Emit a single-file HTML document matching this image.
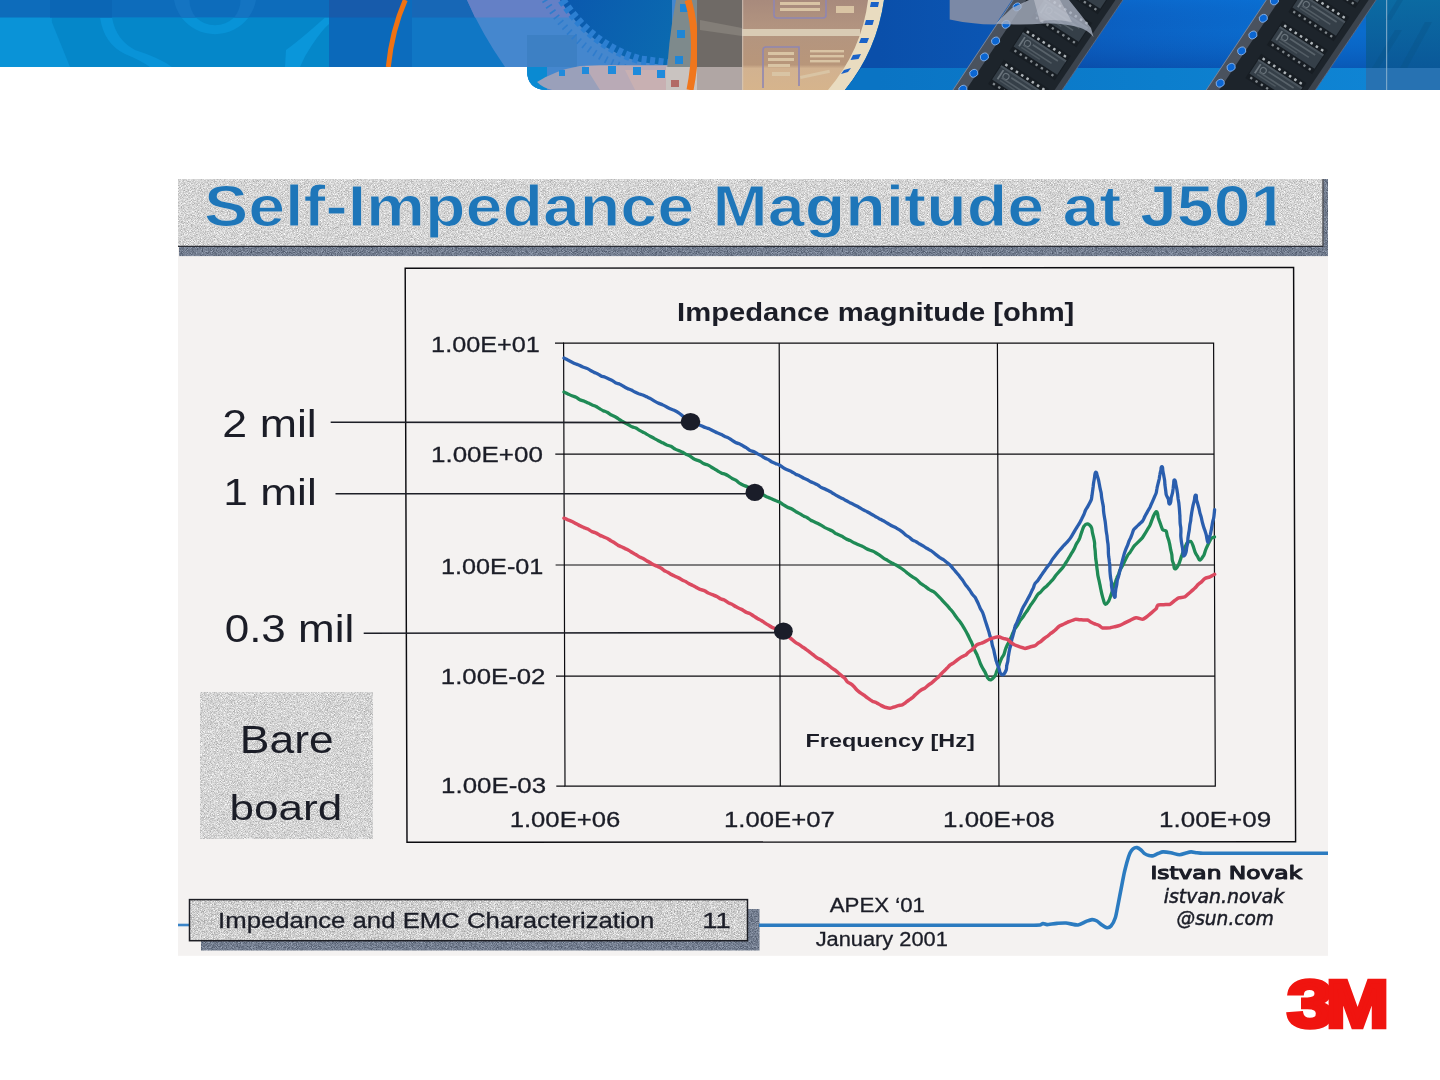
<!DOCTYPE html>
<html lang="en">
<head>
<meta charset="utf-8">
<title>Self-Impedance Magnitude at J501</title>
<style>
html,body{margin:0;padding:0;background:#fff;}
body{width:1440px;height:1080px;overflow:hidden;position:relative;font-family:"Liberation Sans",sans-serif;}
svg{position:absolute;left:0;top:0;display:block;}
text{white-space:pre;}
</style>
</head>
<body>
<svg width="1440" height="1080" viewBox="0 0 1440 1080">
<defs>
<clipPath id="bclip"><path d="M0,0 H1440 V90 H547 Q527,90 527,70 V67 H0 Z"/></clipPath>
<linearGradient id="bgR" x1="880" x2="1440" y1="0" y2="0" gradientUnits="userSpaceOnUse">
 <stop offset="0" stop-color="#0a4faa"/><stop offset="0.18" stop-color="#0b55b2"/><stop offset="0.45" stop-color="#0b62c4"/><stop offset="0.7" stop-color="#0a6cce"/><stop offset="1" stop-color="#0a6ccc"/>
</linearGradient>
<linearGradient id="bgR2" x1="880" x2="1440" y1="0" y2="0" gradientUnits="userSpaceOnUse">
 <stop offset="0" stop-color="#0a74c4"/><stop offset="0.5" stop-color="#0c7ecd"/><stop offset="1" stop-color="#1086d6"/>
</linearGradient>
<linearGradient id="vdark" x1="0" x2="0" y1="0" y2="68" gradientUnits="userSpaceOnUse">
 <stop offset="0" stop-color="#0a78e0" stop-opacity="0.28"/><stop offset="0.45" stop-color="#0a50b0" stop-opacity="0"/><stop offset="1" stop-color="#062a80" stop-opacity="0.3"/>
</linearGradient>
<linearGradient id="teal" x1="0" x2="0" y1="0" y2="68" gradientUnits="userSpaceOnUse">
 <stop offset="0" stop-color="#0b6a9e"/><stop offset="1" stop-color="#0a5896"/>
</linearGradient>
<linearGradient id="tan" x1="0" x2="0" y1="0" y2="90" gradientUnits="userSpaceOnUse">
 <stop offset="0" stop-color="#a88a7c"/><stop offset="0.33" stop-color="#b39580"/><stop offset="0.72" stop-color="#b8967a"/><stop offset="0.76" stop-color="#d2b290"/><stop offset="1" stop-color="#d6b48c"/>
</linearGradient>
<linearGradient id="deep" x1="560" x2="680" y1="0" y2="60" gradientUnits="userSpaceOnUse">
 <stop offset="0" stop-color="#0a58ae"/><stop offset="1" stop-color="#0b6cb0"/>
</linearGradient>
<g id="chip">
 <rect x="-27" y="-14.5" width="54" height="29" fill="#171d23"/>
 <rect x="-26" y="-8.6" width="52" height="17.2" fill="#353f48"/>
 <rect x="-26" y="-8.6" width="52" height="2" fill="#4a545d"/>
 <rect x="-22.5" y="-5.5" width="1.8" height="11" fill="#6b757d"/>
 <circle cx="-16" cy="-1.5" r="3" fill="none" stroke="#69737b" stroke-width="1.1"/>
 <rect x="-11" y="-4.2" width="30" height="1.7" fill="#59636b"/>
 <rect x="-19" y="1.2" width="34" height="1.7" fill="#535d65"/>
 <rect x="-19" y="4.4" width="22" height="1.5" fill="#4c565e"/>
 <g fill="#aeb4b8"><rect x="-23.2" y="-12.6" width="2.6" height="2.6" rx="0.6"/><rect x="-16.9" y="-12.6" width="2.6" height="2.6" rx="0.6"/><rect x="-10.6" y="-12.6" width="2.6" height="2.6" rx="0.6"/><rect x="-4.3" y="-12.6" width="2.6" height="2.6" rx="0.6"/><rect x="2.0" y="-12.6" width="2.6" height="2.6" rx="0.6"/><rect x="8.3" y="-12.6" width="2.6" height="2.6" rx="0.6"/><rect x="14.6" y="-12.6" width="2.6" height="2.6" rx="0.6"/><rect x="20.9" y="-12.6" width="2.6" height="2.6" rx="0.6"/></g>
 <g fill="#80878c"><rect x="-23.2" y="10.2" width="2.4" height="2.4" rx="0.6"/><rect x="-16.9" y="10.2" width="2.4" height="2.4" rx="0.6"/><rect x="-10.6" y="10.2" width="2.4" height="2.4" rx="0.6"/><rect x="-4.3" y="10.2" width="2.4" height="2.4" rx="0.6"/><rect x="2.0" y="10.2" width="2.4" height="2.4" rx="0.6"/><rect x="8.3" y="10.2" width="2.4" height="2.4" rx="0.6"/><rect x="14.6" y="10.2" width="2.4" height="2.4" rx="0.6"/><rect x="20.9" y="10.2" width="2.4" height="2.4" rx="0.6"/></g>
</g>
<g id="tape">
 <path d="M946.3,100 L1021.1,-12 H1131.0 L1055.4,100 Z" fill="#1d242b"/>
 <path d="M946.3,100 L1021.1,-12 h13 L959.3,100 Z" fill="#4a525e"/>
 <path d="M1047.9,100 L1123.5,-12 h7.5 L1055.4,100 Z" fill="#3b434d"/>
 <path d="M946.3,100 L1021.1,-12" stroke="#7f90ab" stroke-width="0.9" fill="none"/>
 <path d="M1055.4,100 L1131.0,-12" stroke="#5f7396" stroke-width="0.8" fill="none"/>
 <use href="#chip" transform="translate(1040.1,53.5) rotate(33)"/><use href="#chip" transform="translate(1018.6,86.5) rotate(33)"/><use href="#chip" transform="translate(1061.6,20.5) rotate(33)"/><use href="#chip" transform="translate(1083.1,-12.5) rotate(33)"/>
 <g fill="#0b66d2" stroke="#8fb6ea" stroke-width="0.8"><ellipse cx="1017.1" cy="6.9" rx="4.2" ry="3.7" transform="rotate(-25 1017.1 6.9)"/><ellipse cx="1006" cy="24.3" rx="4.2" ry="3.7" transform="rotate(-25 1006 24.3)"/><ellipse cx="995.6" cy="41" rx="4.2" ry="3.7" transform="rotate(-25 995.6 41)"/><ellipse cx="984.4" cy="56.9" rx="4.2" ry="3.7" transform="rotate(-25 984.4 56.9)"/><ellipse cx="973.8" cy="73.3" rx="4.2" ry="3.7" transform="rotate(-25 973.8 73.3)"/><ellipse cx="962.9" cy="89.2" rx="4.2" ry="3.7" transform="rotate(-25 962.9 89.2)"/><ellipse cx="1028" cy="-9.5" rx="4.2" ry="3.7" transform="rotate(-25 1028 -9.5)"/></g>
</g>
</defs>
<g clip-path="url(#bclip)">
<!-- A: left light-blue field -->
<rect x="0" y="0" width="1440" height="90" fill="#0790d4"/>
<rect x="52" y="17.5" width="280" height="50" fill="#0587c9"/>
<path d="M0,17.5 H50 L70,67 H0Z" fill="#0a93d7"/>
<path d="M112,17.5 Q116,40 135,50 Q160,58 172,67 H150 Q140,60 125,54 Q104,44 100,17.5Z" fill="#0993d8"/>
<path d="M181.5,17.5 A42,42 0 0 0 248.5,17.5 H234 A27,27 0 0 1 196,17.5Z" fill="#0893d7"/>
<path d="M325,17.5 Q300,40 286,50 L285,67 H300 Q305,55 312,45 Q322,30 329,24 V17.5Z" fill="#0a96da"/>
<rect x="0" y="0" width="329" height="17.5" fill="#0d6cbb"/>
<path d="M50,0 H112 V17.5 H50Z" fill="#0b66b5"/>
<path d="M181.5,17.5 A42,42 0 0 1 174,0 H189.5 A27,27 0 0 0 196,17.5Z M248.5,17.5 A42,42 0 0 0 256,0 H240.5 A27,27 0 0 1 234,17.5Z" fill="#1474c2"/>
<!-- B -->
<rect x="329" y="0" width="85" height="67" fill="#0b69ba"/>
<rect x="329" y="0" width="85" height="17.5" fill="#175bab"/>
<rect x="412" y="0" width="118" height="67" fill="#1077c5"/>
<rect x="412" y="0" width="118" height="17.5" fill="#1767b6"/>
<path d="M405,0 Q392,30 388,67 H412 V0Z" fill="#0c6cbd"/>
<path d="M467,0 H700 V90 H527 V67 H505 Q482,34 467,0Z" fill="#4587ce"/>
<path d="M467,0 H600 V17.5 H475Z" fill="#6480c6"/>
<rect x="527" y="35" width="50" height="32" fill="#3d80c4"/>
<!-- C: gear + deep blue disc -->
<path d="M560,0 Q590,48 640,62 L672,66 V0Z" fill="url(#deep)"/>
<path d="M562,0 Q592,46 640,60 L672,64" fill="none" stroke="#2c7fd2" stroke-width="9" stroke-dasharray="5 3.5"/>
<path d="M545,0 Q580,58 640,72" fill="none" stroke="#2f7ccc" stroke-width="7" stroke-dasharray="1.6 5"/>
<rect x="527" y="67" width="20" height="23" fill="#0a8ad2"/>
<path d="M537,82 Q556,70 580,66 L600,65 H672 V90 H552 Q543,88 537,82Z" fill="#9aa0ba"/>
<path d="M585,66 H672 V90 H600Z" fill="#b9aab6"/><path d="M625,70 H672 V90 H635Z" fill="#c8b0b2"/>
<g fill="#1f8bdc"><rect x="559" y="70" width="6" height="6"/><rect x="582" y="67" width="7" height="7"/><rect x="608" y="66" width="8" height="8"/><rect x="633" y="67" width="8" height="8"/><rect x="657" y="70" width="8" height="8"/></g>
<!-- film strip + orange cable -->
<path d="M676,0 H700 V90 H666 Q668,40 676,0Z" fill="#7e8a8c"/>
<path d="M666,67 H700 V90 H666Z" fill="#c9c3c0"/>
<g fill="#1f86d6"><rect x="680" y="4" width="8" height="8"/><rect x="677" y="30" width="8" height="8"/><rect x="675" y="56" width="8" height="8"/></g>
<rect x="671" y="80" width="8" height="7" fill="#b26a66"/>
<path d="M688,0 Q700,40 690,90" fill="none" stroke="#f0761c" stroke-width="7"/>
<!-- D: flex circuit -->
<rect x="697" y="0" width="46" height="67" fill="#6f6a66"/>
<rect x="697" y="67" width="46" height="23" fill="#b0a6a4"/>
<path d="M700,20 L742,28 V36 L700,30Z" fill="#837e78"/>
<path d="M742,0 H876 Q868,50 836,90 H742Z" fill="url(#tan)"/>
<rect x="742" y="29" width="118" height="7" fill="#d9cbb4"/>
<rect x="742.2" y="0" width="1" height="90" fill="#d8d0c8" opacity="0.7"/>
<g fill="none" stroke="#8f86b2" stroke-width="1.6">
 <rect x="774" y="-4" width="52" height="22" rx="3"/>
 <path d="M763,88 V50 Q763,47 766,47 H799 V86"/>
</g>
<g fill="#d9c4a4">
 <rect x="780" y="2" width="40" height="3"/><rect x="780" y="8" width="40" height="3"/><rect x="836" y="6" width="18" height="7"/>
 <rect x="768" y="52" width="26" height="3"/><rect x="768" y="58" width="26" height="3"/><rect x="768" y="64" width="22" height="3"/><rect x="772" y="72" width="18" height="4"/>
 <rect x="810" y="50" width="34" height="2.4"/><rect x="810" y="55" width="34" height="2.4"/><rect x="810" y="60" width="30" height="2.4"/>
 <rect x="800" y="76" width="30" height="3" transform="rotate(-12 800 76)"/>
</g>
<path d="M868,0 Q862,50 828,90 H845 Q877,50 884,0Z" fill="#e9dcc0"/>
<g fill="#1a62c8"><path d="M871,2 l8,0 l-1,5 l-8,0Z"/><path d="M866,20 l8,0 l-1.5,5 l-8,0Z"/><path d="M861,38 l8,0 l-2,5 l-8,0Z"/><path d="M853,55 l8,-1 l-2.5,5 l-8,1Z"/><path d="M844,70 l7,-2 l-3,4 l-7,2Z"/></g>
<!-- E: blue field with IC tapes -->
<path d="M884,0 Q877,50 845,90 H1440 V0Z" fill="url(#bgR)"/>
<path d="M1080,0 H1440 V68 H1040Z" fill="url(#vdark)"/>
<path d="M861,68 Q853,80 845,90 H1440 V68Z" fill="url(#bgR2)"/>
<path d="M949.7,0 H1012 L995.5,24.6 Q970,24 949.7,19.4Z" fill="#7b89a6"/>
<use href="#tape"/>
<path d="M995.5,23.8 L1012,8 L1029,0 H1069 L1079,12.5 L1091,28 L1093.5,37 Q1088,30 1078,27 Q1060,22.5 1045.5,23.6 Q1025,25 1009.4,24.3Z" fill="#aab2c3" opacity="0.78"/>
<path d="M1034,0 H1060 L1072,22 Q1050,18 1040,22Z" fill="#d4d8e0" opacity="0.45"/>
<path d="M1366,0 H1440 V68 H1366Z" fill="url(#teal)" opacity="0.92"/>
<path d="M1366,68 H1440 V90 H1366Z" fill="#2a70ae" opacity="0.9"/>
<path d="M1372,68 L1395,30 L1402,30 L1379,68Z M1400,68 L1425,22 L1432,22 L1407,68Z M1385,20 L1397,0 H1403 L1391,20Z" fill="#085488" opacity="0.35"/>
<use href="#tape" transform="translate(257.3,-6)"/>
<rect x="1386" y="0" width="1.2" height="90" fill="#8fb4d0" opacity="0.8"/>
<path d="M388.3,67 Q392,30 405.3,0" fill="none" stroke="#f07212" stroke-width="5"/>
</g>

<defs>
<filter id="grain" x="0" y="0" width="100%" height="100%" color-interpolation-filters="sRGB">
  <feTurbulence type="fractalNoise" baseFrequency="1.3" numOctaves="1" seed="7" result="n"/>
  <feColorMatrix in="n" type="matrix" values="0.62 0 0 0 0.52  0.62 0 0 0 0.52  0.62 0 0 0 0.52  0 0 0 0 1"/>
  <feComposite in2="SourceGraphic" operator="in"/>
</filter>
<filter id="grainD" x="0" y="0" width="100%" height="100%" color-interpolation-filters="sRGB">
  <feTurbulence type="fractalNoise" baseFrequency="1.2" numOctaves="1" seed="11" result="n"/>
  <feColorMatrix in="n" type="matrix" values="0.6 0 0 0 0.15  0.6 0 0 0 0.19  0.6 0 0 0 0.26  0 0 0 0 1"/>
  <feComposite in2="SourceGraphic" operator="in"/>
</filter>
<filter id="grainF" x="0" y="0" width="100%" height="100%" color-interpolation-filters="sRGB">
  <feTurbulence type="fractalNoise" baseFrequency="1.3" numOctaves="1" seed="23" result="n"/>
  <feColorMatrix in="n" type="matrix" values="0.66 0 0 0 0.48  0.66 0 0 0 0.48  0.66 0 0 0 0.48  0 0 0 0 1"/>
  <feComposite in2="SourceGraphic" operator="in"/>
</filter>
</defs>
<!-- scanned slide paper -->
<rect x="178" y="179" width="1150" height="776.8" fill="#f4f2f1"/>
<!-- title bar shadow + bar -->
<rect x="179" y="179" width="1149" height="77.1" fill="#6d7689" filter="url(#grainD)"/>
<rect x="178" y="179" width="1145.4" height="67.5" fill="#d3d3d3" filter="url(#grain)"/>
<path d="M1323,179 V246.4 H178" fill="none" stroke="#2a2c34" stroke-width="1.1"/>
<!-- Bare board box -->
<rect x="200" y="692" width="173" height="147" fill="#d6d6d5" filter="url(#grain)"/>
<!-- footer label box -->
<rect x="201" y="909" width="558.5" height="41.5" fill="#6d7689" filter="url(#grainD)"/>
<path d="M178,925 H190" stroke="#3a84c8" stroke-width="2.6" fill="none"/>
<rect x="189.5" y="899.5" width="558" height="41.2" fill="#cfcfcf" filter="url(#grainF)"/>
<rect x="189.5" y="899.6" width="558" height="41.1" fill="none" stroke="#1d1e24" stroke-width="1.5"/>
<!-- chart frame -->
<g fill="none" stroke="#0b0b0f" stroke-width="1.45">
<path d="M405.2,268.2 L1293.6,267.5 L1295.6,841.8 L407,842.3 Z"/>
</g>
<g fill="none" stroke="#0b0b0f" stroke-width="1.2">
<path d="M563.6,343.2 L1213.6,343.2 L1215.3,786.2 L565.0,786.2 Z"/>
<path d="M555,343.2 H564 M555.3,454.2 H1214 M555.6,565 H1214.5 M556,676.2 H1214.9 M556.3,786.2 H565"/>
<path d="M779.2,343.2 L780.3,786.2 M997.4,343.2 L999,786.2"/>
</g>

<g fill="none" stroke-linejoin="round" stroke-linecap="round">
<path d="M564.0,392.0 C565.1,392.5 566.8,393.4 567.9,393.9 C569.0,394.4 570.8,395.4 571.9,395.8 C573.1,396.3 575.0,396.6 576.1,397.2 C577.1,397.7 578.7,399.2 579.8,399.7 C580.9,400.3 582.8,400.6 583.9,401.0 C585.0,401.5 587.1,402.6 588.2,403.1 C589.3,403.6 591.1,404.5 592.2,405.0 C593.2,405.4 595.0,406.0 596.1,406.5 C597.1,407.1 599.1,408.5 600.1,409.0 C601.0,409.6 602.6,410.4 603.6,410.9 C604.6,411.3 606.3,411.7 607.2,412.3 C608.2,412.8 609.9,414.2 610.8,414.7 C611.7,415.2 613.3,415.7 614.2,416.2 C615.1,416.6 617.0,417.9 618.0,418.5 C619.0,419.2 620.5,420.3 621.5,420.9 C622.5,421.5 624.1,422.4 625.1,422.9 C626.1,423.4 627.6,424.2 628.5,424.7 C629.5,425.3 631.1,426.4 632.1,426.8 C633.1,427.3 634.9,427.6 635.9,428.0 C636.9,428.5 638.2,429.5 639.1,430.1 C640.0,430.6 642.1,431.7 643.1,432.2 C644.0,432.7 645.5,433.5 646.5,434.1 C647.4,434.6 649.0,435.5 650.0,436.1 C651.0,436.7 653.0,437.7 654.1,438.4 C655.2,439.0 657.2,440.1 658.4,440.7 C659.5,441.3 661.4,442.2 662.6,442.8 C663.8,443.4 665.7,444.5 666.8,445.0 C667.9,445.4 669.8,445.8 670.9,446.3 C672.0,446.8 674.2,448.6 675.2,449.1 C676.1,449.6 677.8,450.2 678.8,450.6 C679.7,451.0 681.3,451.6 682.2,452.1 C683.2,452.6 685.0,453.8 685.9,454.3 C686.8,454.7 688.3,455.1 689.2,455.6 C690.1,456.1 692.2,457.8 693.0,458.3 C693.9,458.8 695.3,459.6 696.2,459.9 C697.2,460.3 699.0,460.7 700.0,461.2 C700.9,461.7 702.5,463.1 703.5,463.6 C704.5,464.1 706.3,464.4 707.3,464.8 C708.3,465.2 709.8,466.1 710.8,466.7 C711.7,467.2 713.4,468.2 714.4,468.8 C715.4,469.4 717.1,470.7 718.0,471.2 C719.0,471.8 720.5,472.7 721.4,473.1 C722.4,473.5 724.0,473.7 724.9,474.1 C725.9,474.5 727.7,475.5 728.7,476.1 C729.8,476.8 731.2,477.9 732.2,478.5 C733.3,479.1 735.1,479.7 736.1,480.4 C737.1,481.0 738.5,482.4 739.5,483.1 C740.6,483.8 742.3,484.7 743.4,485.2 C744.4,485.7 746.3,486.2 747.3,486.8 C748.3,487.3 749.8,488.4 750.8,489.0 C751.8,489.5 753.5,490.5 754.6,491.1 C755.6,491.6 757.5,492.5 758.7,493.0 C759.9,493.5 761.9,494.3 763.0,494.8 C764.2,495.4 765.9,496.4 767.0,496.9 C768.1,497.5 769.9,498.0 771.0,498.5 C772.2,499.0 774.5,500.1 775.5,500.6 C776.6,501.1 778.5,501.5 779.5,502.1 C780.6,502.6 782.5,504.2 783.6,504.9 C784.6,505.6 786.3,506.6 787.5,507.2 C788.6,507.8 790.7,508.4 791.9,509.0 C793.0,509.6 794.8,511.0 796.0,511.7 C797.1,512.3 799.1,513.3 800.1,513.9 C801.1,514.5 802.8,515.7 803.7,516.1 C804.5,516.6 806.1,517.0 806.9,517.5 C807.8,517.9 809.9,519.7 810.8,520.2 C811.7,520.7 813.2,521.2 814.2,521.7 C815.1,522.1 816.9,523.0 817.9,523.5 C818.9,524.0 820.4,524.8 821.4,525.4 C822.3,526.0 824.0,527.1 824.9,527.6 C825.9,528.1 827.5,528.9 828.5,529.3 C829.5,529.8 831.3,530.4 832.3,530.9 C833.3,531.5 834.8,533.0 835.7,533.5 C836.7,534.0 838.2,534.5 839.2,535.0 C840.2,535.4 842.0,536.4 843.0,536.9 C843.9,537.5 845.3,538.5 846.3,539.0 C847.3,539.5 849.0,540.1 850.1,540.6 C851.1,541.1 852.9,542.2 854.1,542.8 C855.2,543.3 857.3,544.3 858.5,544.8 C859.6,545.3 861.5,545.9 862.7,546.5 C863.8,547.0 865.4,548.2 866.6,548.8 C867.7,549.4 869.9,550.1 871.0,550.5 C872.1,551.0 873.8,551.6 874.9,552.2 C875.9,552.7 878.0,554.1 879.2,554.9 C880.4,555.7 882.4,557.5 883.5,558.1 C884.5,558.8 886.3,559.7 887.4,560.3 C888.4,560.9 890.7,562.3 891.8,563.0 C892.9,563.6 894.9,564.4 896.0,565.0 C897.1,565.6 898.8,566.6 899.8,567.3 C900.9,568.0 903.2,569.6 904.3,570.5 C905.4,571.3 907.1,572.9 908.3,573.8 C909.4,574.7 911.3,576.1 912.5,576.9 C913.7,577.7 915.7,578.8 916.9,579.7 C918.0,580.6 919.5,582.5 920.6,583.4 C921.8,584.3 924.0,585.6 925.2,586.4 C926.3,587.2 928.0,588.7 929.1,589.4 C930.3,590.1 932.4,591.0 933.5,591.7 C934.7,592.5 936.7,594.4 937.6,595.3 C938.5,596.2 939.9,597.6 940.7,598.5 C941.5,599.4 942.8,600.9 943.7,601.9 C944.5,602.8 945.9,604.2 946.8,605.1 C947.6,606.0 949.3,608.0 950.0,608.8 C950.8,609.6 952.0,610.9 952.6,611.8 C953.3,612.7 954.5,614.6 955.2,615.6 C955.9,616.5 957.0,618.1 957.7,619.0 C958.4,619.8 959.5,621.0 960.2,621.9 C960.8,622.7 961.7,624.3 962.3,625.2 C962.9,626.2 964.2,628.3 964.9,629.5 C965.6,630.7 966.9,633.0 967.6,634.4 C968.3,635.7 969.4,638.3 970.0,639.4 C970.5,640.4 971.5,642.0 971.9,643.1 C972.4,644.2 973.1,646.6 973.6,647.8 C974.1,649.0 975.1,651.0 975.6,652.0 C976.1,653.1 977.0,654.7 977.4,655.7 C977.9,656.8 978.8,659.2 979.2,660.3 C979.6,661.4 980.2,663.2 980.7,664.3 C981.2,665.4 982.1,667.2 982.7,668.3 C983.3,669.4 984.5,671.1 985.1,672.3 C985.7,673.5 986.9,677.0 987.6,677.8 C988.2,678.7 989.8,680.0 990.8,679.8 C991.8,679.5 994.1,677.1 994.9,676.0 C995.7,675.0 996.2,672.9 996.6,671.6 C997.1,670.4 998.0,668.1 998.5,666.9 C998.9,665.7 999.4,663.8 999.8,662.7 C1000.2,661.5 1001.2,659.2 1001.7,658.1 C1002.3,657.0 1003.5,655.5 1004.0,654.3 C1004.5,653.2 1005.0,650.8 1005.4,649.5 C1005.9,648.2 1006.9,645.9 1007.4,644.8 C1007.9,643.8 1008.8,642.2 1009.3,641.1 C1009.8,640.1 1010.8,638.0 1011.3,636.9 C1011.8,635.8 1012.5,633.9 1013.0,632.8 C1013.5,631.8 1014.2,630.1 1014.8,629.0 C1015.4,628.0 1016.9,626.1 1017.6,625.1 C1018.3,624.0 1019.1,622.1 1019.8,621.0 C1020.5,620.0 1021.7,618.6 1022.4,617.6 C1023.2,616.6 1024.4,614.6 1025.1,613.6 C1025.8,612.6 1027.0,611.1 1027.6,610.1 C1028.3,609.1 1029.3,607.1 1030.0,606.1 C1030.6,605.1 1031.8,603.6 1032.5,602.6 C1033.2,601.7 1034.3,600.0 1035.0,598.9 C1035.6,597.8 1036.7,595.7 1037.5,594.8 C1038.2,593.9 1039.8,592.9 1040.6,592.1 C1041.5,591.2 1042.7,589.5 1043.6,588.7 C1044.4,587.8 1046.0,586.8 1046.8,586.0 C1047.7,585.1 1049.3,583.3 1050.2,582.4 C1051.1,581.4 1052.5,580.0 1053.3,579.0 C1054.1,578.0 1055.3,576.0 1056.1,575.0 C1056.9,574.0 1058.3,572.5 1059.2,571.5 C1060.1,570.6 1061.8,568.9 1062.6,567.8 C1063.4,566.8 1064.4,565.0 1065.1,563.9 C1065.8,562.8 1067.0,561.1 1067.6,560.1 C1068.2,559.0 1069.2,557.4 1069.8,556.3 C1070.4,555.3 1071.6,553.3 1072.3,552.2 C1072.9,551.1 1074.0,549.3 1074.5,548.3 C1075.0,547.3 1075.6,545.6 1076.1,544.6 C1076.6,543.6 1077.8,541.8 1078.3,541.0 C1078.8,540.1 1079.4,538.7 1079.8,537.8 C1080.1,536.9 1081.1,533.7 1081.7,532.2 C1082.2,530.6 1083.1,527.5 1083.8,526.5 C1084.5,525.5 1086.0,523.7 1087.2,523.8 C1088.4,523.9 1090.6,525.8 1091.3,527.1 C1092.1,528.4 1092.1,531.2 1092.4,532.5 C1092.7,533.8 1093.2,535.8 1093.5,537.1 C1093.8,538.4 1094.5,541.9 1094.6,542.9 C1094.7,543.8 1094.6,545.4 1094.6,546.3 C1094.7,547.3 1095.1,549.8 1095.2,550.8 C1095.3,551.7 1095.3,553.3 1095.4,554.2 C1095.5,555.2 1095.6,557.5 1095.7,558.6 C1095.9,559.7 1096.2,561.3 1096.3,562.4 C1096.4,563.5 1096.6,565.6 1096.8,566.8 C1096.9,568.0 1097.2,569.9 1097.4,571.2 C1097.5,572.4 1097.7,574.4 1097.9,575.6 C1098.1,576.8 1098.6,578.7 1098.9,579.9 C1099.2,581.1 1099.6,583.4 1099.9,584.7 C1100.2,586.0 1100.7,588.9 1101.0,590.2 C1101.3,591.6 1101.7,593.7 1102.1,595.0 C1102.4,596.3 1103.1,598.7 1103.5,599.9 C1103.9,601.1 1104.0,603.8 1105.2,604.2 C1106.3,604.5 1107.9,602.4 1108.5,601.4 C1109.2,600.4 1110.3,597.1 1110.8,595.6 C1111.3,594.1 1112.1,591.4 1112.5,590.2 C1112.9,589.0 1113.5,586.8 1113.9,585.8 C1114.2,584.7 1115.0,583.1 1115.4,582.1 C1115.8,581.0 1116.5,578.7 1116.9,577.8 C1117.3,576.8 1118.2,575.4 1118.6,574.4 C1119.0,573.4 1119.4,571.3 1119.9,570.2 C1120.4,569.1 1121.8,567.0 1122.5,565.7 C1123.1,564.4 1124.4,561.9 1125.0,560.6 C1125.7,559.2 1126.8,556.8 1127.4,555.8 C1128.0,554.7 1129.3,553.3 1130.0,552.4 C1130.7,551.4 1131.7,549.6 1132.4,548.6 C1133.0,547.6 1134.1,546.1 1134.9,545.2 C1135.7,544.4 1137.6,542.7 1138.6,541.7 C1139.6,540.7 1141.7,538.6 1142.5,537.6 C1143.3,536.6 1144.3,534.7 1145.0,533.6 C1145.7,532.5 1147.0,530.3 1147.6,529.2 C1148.3,528.1 1149.4,526.4 1150.0,525.2 C1150.5,524.0 1151.5,521.2 1152.0,519.9 C1152.5,518.6 1153.2,516.5 1153.8,515.4 C1154.5,514.3 1155.5,511.2 1156.7,511.8 C1157.9,512.3 1157.8,515.9 1158.2,517.4 C1158.7,519.0 1159.5,521.4 1160.1,522.9 C1160.6,524.4 1162.1,529.0 1162.7,529.8 C1163.3,530.6 1165.5,530.2 1166.1,531.0 C1166.7,531.8 1166.9,534.6 1167.3,536.0 C1167.7,537.3 1168.5,539.5 1168.9,540.8 C1169.2,542.0 1169.6,544.0 1169.9,545.3 C1170.1,546.6 1170.5,548.6 1170.7,549.9 C1171.0,551.2 1171.6,553.3 1171.8,554.6 C1172.0,556.0 1172.1,559.2 1172.3,560.3 C1172.5,561.4 1173.3,563.1 1173.7,564.2 C1174.0,565.3 1173.7,568.7 1175.0,568.9 C1176.4,569.0 1177.7,566.1 1178.5,564.9 C1179.2,563.6 1179.9,561.3 1180.3,560.0 C1180.8,558.6 1181.4,556.4 1181.9,555.1 C1182.4,553.7 1183.4,551.0 1183.9,549.9 C1184.4,548.8 1185.2,546.8 1185.6,545.9 C1186.1,545.0 1186.6,543.3 1187.4,542.6 C1188.2,542.0 1190.1,541.0 1191.0,541.5 C1191.9,542.1 1192.7,545.1 1193.3,546.5 C1193.8,547.9 1194.7,551.2 1195.2,552.4 C1195.7,553.6 1197.0,555.4 1197.6,556.5 C1198.3,557.5 1198.7,560.4 1199.9,560.2 C1201.1,559.9 1203.0,556.6 1203.8,555.3 C1204.5,554.0 1205.0,551.6 1205.5,550.2 C1206.0,548.8 1207.0,546.6 1207.7,545.2 C1208.4,543.8 1210.6,539.1 1211.2,538.4 C1211.9,537.6 1213.6,537.3 1214.5,536.9" stroke="#1f8a55" stroke-width="3.3"/>
<path d="M564.0,358.0 C565.1,358.6 566.7,359.4 567.8,360.0 C568.8,360.5 570.6,361.4 571.6,361.9 C572.6,362.4 574.4,363.3 575.3,363.7 C576.2,364.1 577.8,364.6 578.7,365.0 C579.7,365.5 581.8,366.6 582.9,367.0 C583.9,367.4 585.6,367.8 586.6,368.3 C587.6,368.7 589.1,369.6 590.1,370.2 C591.1,370.7 592.9,371.8 593.9,372.2 C594.8,372.7 596.4,373.2 597.4,373.7 C598.3,374.2 600.2,375.6 601.2,376.1 C602.3,376.5 604.1,376.8 605.2,377.2 C606.2,377.6 607.9,378.4 608.9,378.9 C609.9,379.4 611.6,380.1 612.6,380.7 C613.5,381.2 615.0,382.6 616.0,383.1 C617.0,383.6 618.8,383.8 619.9,384.3 C620.9,384.7 623.0,386.1 624.0,386.6 C624.9,387.2 626.4,388.0 627.4,388.5 C628.4,389.0 630.2,389.5 631.3,390.0 C632.3,390.5 633.8,391.5 634.9,392.0 C635.9,392.5 637.8,393.4 638.8,393.8 C639.9,394.2 641.7,394.6 642.7,395.0 C643.7,395.4 645.2,396.2 646.2,396.6 C647.2,397.1 648.8,397.8 649.8,398.3 C650.8,398.8 653.0,400.2 654.1,400.9 C655.2,401.5 657.0,402.5 658.1,403.0 C659.3,403.6 661.2,404.2 662.4,404.8 C663.6,405.3 665.7,406.4 666.8,407.0 C667.9,407.6 669.6,408.6 670.8,409.1 C671.9,409.6 673.9,410.2 675.1,410.8 C676.3,411.4 678.0,412.4 679.1,413.1 C680.2,413.8 681.9,415.5 682.9,416.2 C683.8,416.9 685.4,417.8 686.4,418.4 C687.4,419.0 689.4,420.1 690.4,420.6 C691.4,421.0 693.1,421.3 694.1,421.8 C695.1,422.3 697.0,423.8 698.0,424.4 C699.0,424.9 700.8,425.4 701.9,425.9 C702.9,426.4 705.0,427.4 706.0,427.8 C707.0,428.2 708.6,428.6 709.6,429.0 C710.6,429.4 712.5,430.6 713.5,431.1 C714.5,431.6 716.1,432.3 717.2,432.8 C718.2,433.2 720.3,434.1 721.3,434.6 C722.3,435.1 723.8,435.9 724.8,436.4 C725.8,436.9 727.4,437.3 728.4,437.9 C729.3,438.4 731.2,439.8 732.2,440.4 C733.1,441.0 734.6,441.9 735.6,442.4 C736.6,442.9 738.3,443.4 739.3,443.8 C740.3,444.3 741.8,445.2 742.8,445.7 C743.7,446.2 745.3,447.1 746.2,447.7 C747.2,448.3 749.2,450.0 750.1,450.4 C751.0,450.9 752.6,451.1 753.5,451.5 C754.5,452.0 756.7,453.4 757.6,453.9 C758.5,454.4 760.1,455.0 761.0,455.6 C761.9,456.1 763.8,457.5 764.8,458.0 C765.8,458.6 767.4,459.1 768.4,459.6 C769.4,460.2 770.9,461.5 771.9,462.0 C772.9,462.5 774.6,463.1 775.6,463.6 C776.6,464.0 778.6,464.6 779.7,465.2 C780.7,465.8 782.6,467.4 783.7,468.0 C784.8,468.6 786.7,469.5 787.8,470.0 C788.8,470.5 790.6,471.2 791.6,471.7 C792.7,472.3 794.6,473.6 795.7,474.2 C796.9,474.8 798.8,475.4 799.9,476.0 C801.0,476.5 802.8,477.7 803.8,478.2 C804.8,478.7 806.4,479.2 807.4,479.7 C808.3,480.2 809.7,481.3 810.7,481.8 C811.7,482.3 813.3,482.8 814.3,483.2 C815.3,483.7 816.9,484.4 817.8,485.0 C818.8,485.5 820.4,487.0 821.4,487.6 C822.4,488.1 824.2,488.7 825.2,489.1 C826.2,489.5 827.6,490.3 828.6,490.8 C829.5,491.3 831.0,492.1 832.0,492.7 C832.9,493.2 834.9,494.6 835.8,495.1 C836.8,495.7 838.3,496.5 839.2,497.0 C840.2,497.5 842.0,498.3 843.0,498.8 C844.0,499.3 845.5,500.3 846.5,500.8 C847.5,501.3 849.0,502.2 849.9,502.7 C850.9,503.2 852.9,504.1 854.1,504.7 C855.2,505.2 857.3,506.4 858.5,507.0 C859.6,507.6 861.3,508.8 862.4,509.4 C863.5,510.0 865.6,510.8 866.7,511.4 C867.9,512.0 869.5,513.1 870.6,513.7 C871.7,514.3 873.9,515.6 874.9,516.2 C875.9,516.7 877.5,517.7 878.6,518.3 C879.6,518.9 881.2,519.7 882.2,520.3 C883.2,520.8 884.7,521.6 885.6,522.1 C886.6,522.7 888.4,523.7 889.4,524.3 C890.3,524.9 891.8,525.8 892.8,526.3 C893.8,526.8 895.6,527.6 896.6,528.2 C897.6,528.7 899.4,529.9 900.2,530.4 C901.1,531.0 902.4,531.9 903.1,532.5 C903.9,533.2 905.2,534.6 906.1,535.3 C907.0,536.0 908.7,536.8 909.6,537.5 C910.5,538.2 911.7,539.6 912.6,540.2 C913.5,540.8 915.2,541.2 916.1,541.7 C917.0,542.2 918.7,543.5 919.6,544.1 C920.6,544.6 922.1,545.4 923.1,545.9 C924.0,546.5 925.6,547.7 926.6,548.2 C927.5,548.8 929.2,549.7 930.1,550.2 C930.9,550.7 932.3,551.6 933.1,552.2 C933.9,552.8 935.7,554.4 936.6,555.1 C937.5,555.9 938.9,557.0 939.9,557.7 C940.8,558.3 942.5,559.0 943.4,559.6 C944.3,560.2 945.8,561.6 946.7,562.3 C947.5,562.9 949.0,563.9 949.8,564.7 C950.6,565.4 952.2,567.5 953.0,568.5 C953.9,569.5 955.3,571.1 956.1,572.1 C957.0,573.1 958.5,575.0 959.4,576.1 C960.2,577.2 961.8,579.1 962.6,580.1 C963.3,581.1 964.3,583.0 964.9,583.9 C965.5,584.8 966.6,586.1 967.3,586.9 C967.9,587.8 969.2,589.4 969.9,590.4 C970.6,591.4 971.7,593.4 972.3,594.3 C973.0,595.2 974.3,596.2 974.9,597.1 C975.6,598.0 976.4,599.8 976.9,600.9 C977.5,602.0 978.3,603.7 978.8,604.9 C979.3,606.0 980.2,608.2 980.7,609.2 C981.1,610.1 982.2,611.4 982.6,612.4 C983.1,613.4 983.9,616.4 984.3,617.6 C984.7,618.9 985.4,620.9 985.8,622.2 C986.2,623.5 987.1,626.2 987.5,627.6 C988.0,628.9 988.6,631.2 989.0,632.3 C989.3,633.4 989.7,635.1 990.0,636.1 C990.4,637.2 991.1,639.0 991.4,640.2 C991.7,641.3 992.0,643.7 992.3,645.1 C992.6,646.4 993.4,648.4 993.7,649.7 C994.0,651.0 994.6,654.1 994.9,655.4 C995.2,656.6 995.6,658.8 995.9,659.9 C996.3,661.1 996.8,662.9 997.2,664.0 C997.6,665.1 998.5,667.0 998.9,668.2 C999.3,669.4 999.7,672.1 1000.2,672.9 C1000.7,673.7 1002.2,675.2 1003.0,674.8 C1003.9,674.4 1005.7,671.2 1006.2,670.0 C1006.7,668.8 1006.5,666.6 1006.8,665.4 C1007.0,664.2 1007.6,662.4 1007.8,661.2 C1008.0,660.0 1008.1,658.0 1008.3,656.8 C1008.5,655.6 1008.8,653.7 1009.0,652.5 C1009.3,651.3 1009.7,648.9 1010.0,647.8 C1010.2,646.8 1010.9,645.2 1011.1,644.1 C1011.4,643.0 1011.5,640.7 1011.8,639.6 C1012.0,638.5 1012.6,636.9 1012.9,635.8 C1013.2,634.7 1013.9,632.2 1014.1,631.0 C1014.4,629.8 1014.5,627.8 1014.9,626.7 C1015.3,625.5 1016.6,623.4 1017.1,622.2 C1017.6,621.0 1018.3,619.0 1018.8,617.7 C1019.3,616.5 1020.2,614.5 1020.7,613.2 C1021.2,611.9 1022.0,609.4 1022.6,608.2 C1023.2,606.9 1024.4,605.0 1025.1,603.8 C1025.8,602.6 1026.9,600.6 1027.5,599.4 C1028.2,598.1 1029.4,596.1 1029.9,595.0 C1030.4,594.0 1031.2,592.2 1031.7,591.2 C1032.1,590.2 1033.0,588.8 1033.4,587.7 C1033.9,586.7 1034.2,584.7 1034.8,583.8 C1035.4,582.8 1036.8,581.7 1037.5,580.9 C1038.2,580.0 1039.6,577.9 1040.2,577.0 C1040.8,576.1 1041.7,574.7 1042.3,573.8 C1042.9,572.8 1044.2,571.0 1045.0,570.1 C1045.7,569.1 1046.9,567.5 1047.6,566.6 C1048.3,565.7 1049.4,564.3 1050.0,563.4 C1050.6,562.4 1051.7,560.5 1052.4,559.4 C1053.2,558.3 1054.5,556.6 1055.2,555.7 C1055.8,554.9 1056.7,553.6 1057.4,552.8 C1058.1,552.0 1059.6,550.3 1060.4,549.4 C1061.3,548.4 1063.0,546.4 1063.8,545.5 C1064.6,544.7 1066.0,543.3 1066.8,542.4 C1067.6,541.5 1069.5,539.4 1070.2,538.4 C1070.9,537.4 1071.9,535.7 1072.5,534.7 C1073.1,533.7 1074.4,531.5 1075.0,530.4 C1075.6,529.4 1076.7,527.7 1077.3,526.6 C1078.0,525.6 1079.6,523.0 1080.1,522.1 C1080.7,521.2 1081.3,519.7 1081.8,518.7 C1082.2,517.8 1083.4,515.6 1083.9,514.5 C1084.4,513.4 1084.9,511.6 1085.4,510.5 C1085.9,509.4 1087.1,507.7 1087.7,506.6 C1088.3,505.5 1090.9,500.7 1091.3,499.6 C1091.7,498.5 1091.8,496.4 1092.0,495.4 C1092.1,494.3 1092.4,492.7 1092.5,491.7 C1092.7,490.6 1093.0,487.6 1093.2,486.5 C1093.3,485.5 1093.4,483.9 1093.6,482.9 C1093.8,481.9 1094.3,479.1 1094.5,477.6 C1094.8,476.1 1094.7,472.8 1095.7,472.2 C1096.6,471.6 1096.9,474.8 1097.3,475.8 C1097.6,476.9 1098.2,478.7 1098.5,479.9 C1098.8,481.0 1099.0,482.9 1099.3,484.1 C1099.5,485.3 1100.0,488.1 1100.3,489.2 C1100.5,490.3 1101.0,492.1 1101.2,493.2 C1101.3,494.3 1101.5,496.5 1101.7,497.8 C1101.9,499.1 1102.3,501.3 1102.5,502.5 C1102.8,503.7 1103.2,505.6 1103.3,506.8 C1103.5,508.0 1103.4,510.2 1103.6,511.4 C1103.7,512.6 1104.0,514.5 1104.2,515.7 C1104.4,517.0 1104.8,519.3 1105.0,520.4 C1105.2,521.4 1105.4,523.1 1105.5,524.1 C1105.6,525.2 1105.8,526.9 1105.9,528.0 C1106.0,529.1 1106.2,531.3 1106.4,532.2 C1106.5,533.2 1106.9,534.7 1107.0,535.7 C1107.1,536.6 1107.2,538.7 1107.4,539.9 C1107.5,541.0 1107.8,542.8 1108.0,544.0 C1108.1,545.2 1108.3,547.5 1108.3,548.7 C1108.4,549.9 1108.3,551.9 1108.4,553.0 C1108.4,554.1 1108.6,555.7 1108.7,556.8 C1108.9,557.9 1109.2,560.0 1109.3,561.2 C1109.5,562.4 1109.7,564.4 1109.8,565.7 C1109.9,567.0 1109.9,569.2 1109.9,570.3 C1110.0,571.4 1110.1,573.2 1110.2,574.2 C1110.3,575.2 1110.5,576.7 1110.6,577.7 C1110.7,578.7 1111.3,581.2 1111.4,582.2 C1111.5,583.1 1111.4,584.7 1111.5,585.7 C1111.6,586.6 1111.9,588.9 1112.2,590.1 C1112.6,591.4 1113.8,596.4 1114.6,597.2 C1115.5,598.0 1115.1,594.2 1115.3,593.0 C1115.5,591.8 1115.7,589.8 1115.9,588.6 C1116.1,587.4 1116.6,585.5 1116.8,584.2 C1117.0,583.0 1117.2,580.7 1117.4,579.7 C1117.7,578.7 1118.4,577.1 1118.6,576.1 C1118.9,575.1 1119.4,573.0 1119.6,571.9 C1119.9,570.8 1120.4,569.1 1120.7,568.0 C1120.9,566.9 1121.3,565.2 1121.5,564.1 C1121.8,563.0 1122.3,561.1 1122.6,559.9 C1122.9,558.7 1123.6,556.0 1124.0,554.6 C1124.4,553.2 1125.2,550.9 1125.7,549.6 C1126.2,548.3 1127.2,546.1 1127.7,545.0 C1128.1,543.8 1128.8,541.6 1129.2,540.8 C1129.5,540.0 1130.2,538.7 1130.6,537.9 C1130.9,537.0 1131.8,534.8 1132.2,533.7 C1132.6,532.6 1133.1,530.6 1133.7,529.6 C1134.3,528.7 1135.7,527.5 1136.5,526.8 C1137.3,526.0 1138.7,524.8 1139.5,524.0 C1140.3,523.2 1141.9,521.9 1142.7,520.9 C1143.4,519.9 1144.2,517.7 1144.9,516.4 C1145.5,515.2 1146.7,513.1 1147.3,511.9 C1148.0,510.6 1149.4,508.4 1149.9,507.5 C1150.3,506.6 1150.9,505.1 1151.3,504.1 C1151.8,503.2 1152.6,501.4 1153.0,500.4 C1153.5,499.3 1154.3,497.4 1154.7,496.4 C1155.1,495.4 1155.9,493.9 1156.2,492.9 C1156.5,491.9 1156.7,489.5 1157.0,488.3 C1157.2,487.0 1157.7,485.1 1158.0,483.9 C1158.3,482.7 1158.9,480.3 1159.2,479.1 C1159.4,477.8 1159.6,475.8 1159.9,474.6 C1160.1,473.3 1160.6,471.2 1160.9,470.2 C1161.1,469.2 1160.9,466.4 1162.0,466.6 C1163.0,466.8 1162.6,469.5 1162.8,470.6 C1163.0,471.8 1163.4,473.9 1163.7,475.2 C1163.9,476.5 1164.4,478.9 1164.6,480.2 C1164.8,481.5 1164.8,483.5 1164.9,484.8 C1165.1,486.0 1165.5,489.1 1165.7,490.4 C1165.9,491.7 1165.9,493.7 1166.3,494.9 C1166.6,496.1 1167.9,497.7 1168.3,498.9 C1168.8,500.1 1168.4,504.5 1169.8,504.0 C1171.2,503.4 1170.9,499.0 1171.2,497.7 C1171.5,496.4 1172.2,494.3 1172.5,492.9 C1172.8,491.6 1173.0,489.4 1173.2,488.2 C1173.3,487.0 1173.5,484.9 1173.7,483.8 C1173.8,482.7 1173.6,479.6 1174.7,480.0 C1175.7,480.4 1175.6,483.3 1175.9,484.6 C1176.2,485.9 1176.7,488.4 1176.9,489.6 C1177.1,490.8 1177.4,492.7 1177.6,494.0 C1177.7,495.2 1178.0,497.5 1178.1,498.7 C1178.3,499.8 1178.6,501.6 1178.8,502.7 C1178.9,503.9 1179.2,506.9 1179.3,507.9 C1179.4,508.9 1179.5,510.5 1179.6,511.6 C1179.6,512.6 1179.8,514.6 1179.9,515.7 C1179.9,516.7 1179.9,518.4 1180.0,519.5 C1180.0,520.6 1180.1,522.6 1180.2,523.8 C1180.3,524.9 1180.7,526.9 1180.8,527.9 C1180.9,528.9 1180.9,530.6 1180.9,531.6 C1180.9,532.7 1180.7,534.8 1180.8,536.0 C1180.8,537.1 1181.1,538.9 1181.2,540.1 C1181.3,541.2 1181.6,543.0 1181.8,544.2 C1182.0,545.3 1182.4,547.5 1182.6,548.5 C1182.7,549.5 1182.8,551.1 1183.0,552.1 C1183.2,553.1 1182.7,555.9 1183.8,556.0 C1184.9,556.0 1185.6,553.4 1186.0,552.3 C1186.4,551.2 1186.4,549.3 1186.6,548.2 C1186.8,547.0 1187.4,544.5 1187.6,543.2 C1187.8,541.8 1187.8,539.7 1187.9,538.4 C1188.1,537.1 1188.4,535.0 1188.6,533.8 C1188.8,532.6 1189.2,530.8 1189.3,529.7 C1189.5,528.5 1189.7,525.7 1189.9,524.6 C1190.1,523.5 1190.5,521.6 1190.7,520.6 C1190.8,519.5 1190.9,517.9 1191.1,516.8 C1191.2,515.8 1191.6,513.7 1191.7,512.6 C1191.9,511.6 1192.2,509.9 1192.4,508.8 C1192.6,507.8 1192.9,506.1 1193.1,505.1 C1193.4,504.0 1194.1,501.5 1194.4,500.1 C1194.8,498.8 1194.4,495.5 1195.6,495.1 C1196.8,494.7 1196.2,498.2 1196.5,499.5 C1196.8,500.7 1197.4,502.6 1197.7,503.7 C1198.0,504.8 1198.5,506.6 1198.8,507.7 C1199.1,508.8 1199.6,511.5 1199.9,512.8 C1200.2,514.0 1200.9,515.9 1201.2,517.2 C1201.5,518.4 1202.0,520.9 1202.3,522.2 C1202.6,523.5 1203.3,525.8 1203.6,526.8 C1203.9,527.8 1204.5,529.4 1204.9,530.4 C1205.2,531.5 1206.0,533.7 1206.3,535.1 C1206.6,536.4 1207.1,541.2 1207.8,542.1 C1208.5,543.0 1208.6,539.2 1208.9,538.2 C1209.2,537.2 1210.0,535.6 1210.3,534.6 C1210.6,533.5 1211.0,530.9 1211.3,529.8 C1211.5,528.6 1211.8,526.8 1212.0,525.7 C1212.2,524.6 1212.6,522.2 1212.8,521.2 C1213.0,520.3 1213.6,518.8 1213.7,517.8 C1213.9,516.8 1214.4,511.9 1214.6,509.6" stroke="#2a5eae" stroke-width="3.3"/>
<path d="M564.0,518.2 C565.1,518.6 566.8,519.3 567.9,519.8 C569.0,520.2 570.9,521.0 572.1,521.5 C573.2,522.1 575.0,523.1 576.0,523.7 C577.1,524.2 578.7,525.1 579.8,525.7 C580.9,526.2 582.7,527.0 583.8,527.5 C584.9,527.9 586.7,528.5 587.8,529.0 C588.9,529.6 590.9,531.1 592.0,531.6 C593.0,532.1 594.8,532.4 595.8,532.9 C596.9,533.4 599.1,534.9 600.1,535.4 C601.0,535.9 602.6,536.4 603.6,536.9 C604.6,537.3 606.3,538.0 607.4,538.5 C608.4,539.0 610.0,540.2 610.9,540.7 C611.8,541.2 613.2,541.9 614.1,542.5 C615.0,543.0 616.8,544.5 617.8,545.1 C618.7,545.6 620.3,546.3 621.3,546.8 C622.3,547.3 624.1,548.1 625.1,548.6 C626.1,549.1 627.6,549.7 628.6,550.3 C629.6,550.8 631.0,551.8 631.9,552.4 C632.9,552.9 634.8,554.0 635.8,554.5 C636.8,555.1 638.2,556.1 639.2,556.7 C640.2,557.2 641.9,557.8 642.8,558.4 C643.8,558.9 645.6,560.2 646.6,560.7 C647.5,561.3 649.0,562.0 649.9,562.6 C650.8,563.1 652.6,564.3 653.6,564.8 C654.6,565.3 656.2,565.8 657.2,566.2 C658.3,566.7 660.0,567.4 660.9,568.0 C661.9,568.6 663.3,570.0 664.2,570.6 C665.2,571.1 666.8,571.8 667.7,572.3 C668.6,572.8 670.2,573.8 671.2,574.4 C672.2,574.9 674.1,575.8 675.1,576.3 C676.1,576.7 677.8,577.4 678.7,577.9 C679.7,578.4 681.3,579.4 682.2,579.9 C683.2,580.5 684.8,581.1 685.8,581.6 C686.7,582.2 688.5,583.4 689.4,583.9 C690.4,584.4 691.9,585.0 692.8,585.5 C693.8,586.0 695.3,586.8 696.2,587.4 C697.2,587.9 698.9,589.0 700.1,589.4 C701.2,589.9 703.2,590.2 704.3,590.7 C705.5,591.2 707.2,592.4 708.3,593.0 C709.4,593.5 711.2,594.3 712.3,594.7 C713.4,595.2 715.4,595.8 716.5,596.3 C717.7,596.9 719.5,598.3 720.6,598.8 C721.8,599.4 723.7,599.7 724.8,600.3 C725.9,600.8 727.6,602.2 728.5,602.8 C729.4,603.3 731.0,603.8 732.0,604.3 C732.9,604.8 734.7,606.1 735.7,606.6 C736.7,607.2 738.5,608.1 739.4,608.5 C740.4,609.0 741.9,609.6 742.8,610.1 C743.7,610.6 745.3,611.9 746.4,612.4 C747.4,612.9 749.2,613.2 750.2,613.7 C751.2,614.2 752.6,615.4 753.6,616.0 C754.6,616.6 756.3,617.9 757.4,618.5 C758.4,619.1 760.3,619.9 761.3,620.5 C762.3,621.1 763.8,622.3 764.8,622.9 C765.8,623.6 767.6,624.7 768.7,625.3 C769.8,626.0 771.5,627.1 772.7,627.7 C773.9,628.2 776.3,629.1 777.8,629.6 C779.2,630.1 781.9,630.4 783.1,631.1 C784.2,631.8 785.5,633.7 786.3,634.6 C787.2,635.4 788.7,636.7 789.5,637.4 C790.3,638.1 791.6,639.2 792.5,639.9 C793.3,640.6 794.9,642.0 795.8,642.6 C796.7,643.3 798.4,644.0 799.3,644.6 C800.2,645.2 801.9,646.5 802.9,647.2 C803.9,647.9 805.5,648.9 806.4,649.6 C807.4,650.3 808.8,651.5 809.8,652.2 C810.7,652.9 812.4,654.1 813.4,654.9 C814.4,655.7 815.9,657.2 816.9,657.8 C817.9,658.5 819.8,659.1 820.8,659.7 C821.8,660.3 823.2,661.7 824.2,662.4 C825.2,663.1 826.8,663.9 827.8,664.7 C828.8,665.4 830.7,667.3 831.6,667.9 C832.5,668.6 834.1,669.4 835.0,670.0 C835.9,670.6 837.1,671.7 837.9,672.5 C838.7,673.2 840.3,674.6 841.2,675.4 C842.1,676.2 843.7,677.3 844.5,678.1 C845.4,679.0 846.5,680.9 847.3,681.7 C848.1,682.4 849.7,683.1 850.6,683.7 C851.5,684.4 853.0,685.6 853.8,686.4 C854.6,687.3 856.1,689.3 856.9,690.1 C857.7,690.9 859.2,692.0 860.2,692.7 C861.1,693.4 863.0,694.5 864.1,695.2 C865.1,696.0 867.0,697.6 868.2,698.4 C869.4,699.3 871.4,700.7 872.5,701.3 C873.6,701.8 875.5,702.2 876.6,702.8 C877.7,703.3 879.8,704.8 881.0,705.4 C882.1,706.0 883.9,706.9 885.2,707.3 C886.4,707.6 889.0,708.2 890.1,708.2 C891.3,708.2 893.0,707.4 894.0,707.0 C895.1,706.7 897.2,705.9 898.3,705.6 C899.4,705.3 901.3,705.2 902.3,704.8 C903.3,704.4 904.6,703.3 905.5,702.7 C906.4,702.0 908.1,700.6 909.0,700.0 C909.8,699.3 911.3,698.6 912.1,697.9 C912.9,697.3 914.4,695.6 915.2,694.9 C916.0,694.1 917.3,693.0 918.2,692.3 C919.1,691.5 920.6,690.3 921.5,689.7 C922.5,689.1 924.1,688.5 925.1,687.9 C926.0,687.2 927.6,685.6 928.5,685.0 C929.4,684.3 930.9,683.4 931.7,682.8 C932.6,682.1 934.0,680.9 934.8,680.1 C935.7,679.4 937.3,678.1 938.2,677.3 C939.1,676.4 940.4,674.8 941.1,674.0 C941.9,673.2 943.1,672.0 943.9,671.3 C944.6,670.5 946.1,669.1 946.9,668.3 C947.8,667.4 949.3,665.6 950.2,664.9 C951.1,664.2 952.8,663.6 953.7,662.9 C954.6,662.3 956.7,660.4 957.6,659.7 C958.6,659.0 960.0,657.8 961.1,657.2 C962.1,656.6 964.3,655.8 965.2,655.3 C966.1,654.7 967.2,653.5 968.0,652.8 C968.8,652.1 970.6,650.8 971.5,650.1 C972.3,649.5 973.5,648.3 974.3,647.5 C975.1,646.8 976.3,645.2 977.3,644.6 C978.4,644.0 980.7,643.5 981.9,643.0 C983.0,642.6 984.7,641.7 985.8,641.2 C986.9,640.6 988.8,639.5 990.0,639.0 C991.2,638.5 993.4,637.9 994.5,637.6 C995.6,637.3 997.4,636.7 998.6,636.8 C999.8,636.9 1001.8,638.0 1003.0,638.3 C1004.2,638.7 1006.3,638.8 1007.4,639.4 C1008.5,640.0 1010.1,641.9 1011.1,642.6 C1012.1,643.4 1013.8,644.4 1014.9,645.0 C1016.1,645.5 1018.7,646.4 1020.0,646.9 C1021.4,647.3 1023.5,648.4 1025.0,648.4 C1026.4,648.4 1028.6,647.4 1030.0,647.0 C1031.4,646.6 1034.0,646.0 1035.0,645.6 C1036.0,645.1 1037.3,643.8 1038.1,643.2 C1038.9,642.6 1040.2,641.9 1041.0,641.3 C1041.8,640.7 1043.3,639.2 1044.2,638.5 C1045.1,637.8 1046.7,636.7 1047.6,636.1 C1048.5,635.4 1049.7,634.2 1050.5,633.5 C1051.4,632.8 1052.9,631.9 1053.8,631.3 C1054.6,630.6 1055.9,629.3 1056.7,628.6 C1057.5,627.8 1058.9,626.4 1059.9,625.8 C1060.9,625.2 1062.8,624.5 1063.9,624.0 C1064.9,623.5 1066.5,622.7 1067.5,622.2 C1068.6,621.8 1074.1,619.7 1075.2,619.4 C1076.3,619.2 1078.1,619.6 1079.2,619.7 C1080.3,619.7 1082.2,620.0 1083.3,620.0 C1084.5,620.1 1086.4,619.7 1087.5,620.0 C1088.6,620.3 1090.2,621.7 1091.2,622.2 C1092.3,622.8 1094.0,623.6 1095.1,624.0 C1096.1,624.5 1097.9,624.9 1098.9,625.4 C1100.0,625.9 1101.3,627.7 1102.5,627.9 C1103.7,628.1 1108.8,627.8 1110.2,627.7 C1111.5,627.5 1113.5,627.0 1114.8,626.7 C1116.1,626.4 1118.5,625.8 1119.8,625.3 C1121.2,624.8 1123.4,623.6 1124.8,622.9 C1126.2,622.2 1128.6,621.1 1130.1,620.4 C1131.6,619.7 1134.2,617.9 1136.0,617.7 C1137.9,617.5 1141.3,619.3 1142.6,619.2 C1143.8,619.1 1145.4,617.7 1146.4,617.0 C1147.4,616.3 1148.9,614.9 1149.9,614.1 C1150.8,613.3 1155.5,609.5 1156.2,608.7 C1156.8,607.9 1156.9,605.9 1157.7,605.3 C1158.6,604.7 1160.4,604.9 1161.5,604.8 C1162.6,604.7 1164.7,604.6 1165.8,604.5 C1167.0,604.5 1168.8,604.8 1169.9,604.3 C1170.9,603.9 1173.3,601.7 1174.4,600.8 C1175.6,600.0 1177.4,598.5 1178.7,597.9 C1180.1,597.4 1183.6,597.4 1184.8,596.8 C1186.0,596.3 1187.5,594.6 1188.4,593.8 C1189.3,593.1 1190.6,591.9 1191.5,591.1 C1192.3,590.3 1194.2,588.9 1195.1,587.9 C1196.1,587.0 1197.3,585.2 1198.2,584.4 C1199.0,583.6 1200.6,582.7 1201.5,581.9 C1202.3,581.1 1203.7,579.1 1204.9,578.4 C1206.1,577.7 1208.4,577.5 1209.7,577.0 C1211.0,576.4 1213.3,575.0 1214.6,574.3" stroke="#db4a60" stroke-width="3.5"/>
<path d="M759.0,925.2 C832.1,925.2 1014.4,925.2 1020.0,925.2 C1025.6,925.2 1039.1,925.1 1040.0,925.0 C1040.9,924.9 1042.1,923.7 1043.0,923.6 C1043.9,923.5 1045.8,924.6 1047.0,924.6 C1048.2,924.6 1054.5,923.6 1057.0,923.4 C1059.5,923.2 1063.5,922.8 1066.0,923.0 C1068.5,923.2 1075.6,925.2 1078.0,925.0 C1080.4,924.8 1084.4,922.1 1086.0,921.5 C1087.6,920.9 1090.5,919.7 1092.0,919.6 C1093.5,919.5 1095.7,920.3 1097.0,921.0 C1098.3,921.7 1100.7,924.1 1102.0,925.0 C1103.3,925.9 1105.8,927.6 1107.0,927.7 C1108.2,927.8 1110.2,926.9 1111.0,926.0 C1111.8,925.1 1114.6,920.0 1115.4,917.5 C1116.2,915.0 1117.3,908.5 1118.0,905.0 C1118.7,901.5 1120.4,892.3 1121.2,888.3 C1122.0,884.3 1123.3,877.4 1124.0,874.0 C1124.7,870.6 1126.3,864.6 1127.0,862.0 C1127.7,859.4 1129.4,854.3 1130.0,853.0 C1130.6,851.7 1132.1,849.5 1133.0,848.8 C1133.9,848.1 1135.8,847.4 1137.0,847.6 C1138.2,847.8 1140.0,849.2 1141.0,850.0 C1142.0,850.8 1143.5,852.8 1144.6,853.6 C1145.7,854.4 1147.8,855.3 1149.0,855.6 C1150.2,855.9 1152.1,856.0 1153.3,855.7 C1154.5,855.4 1156.6,854.0 1158.0,853.5 C1159.4,853.0 1161.5,852.0 1163.0,851.9 C1164.5,851.8 1168.6,852.4 1170.8,852.8 C1173.0,853.2 1177.7,854.8 1179.6,854.8 C1181.5,854.8 1184.6,853.4 1186.0,853.0 C1187.4,852.6 1189.7,851.9 1191.2,851.9 C1192.7,851.9 1195.4,852.6 1197.0,852.8 C1198.6,853.0 1201.3,853.3 1203.0,853.3 C1204.7,853.3 1229.6,853.3 1240.0,853.3 C1250.4,853.3 1303.4,853.3 1328.0,853.3" stroke="#2b7bc0" stroke-width="3.6" stroke-linecap="butt"/>
</g>
<g fill="none" stroke="#1d1f27" stroke-width="1.6">
<path d="M330.7,422.2 L690,422.6"/>
<path d="M335.5,493.7 L754,493.7"/>
<path d="M363.7,633.2 L783,632.6"/>
</g>
<g fill="#1a1d29">
<ellipse cx="690.5" cy="421.8" rx="9.8" ry="8.8"/>
<ellipse cx="754.8" cy="492.4" rx="9.3" ry="8.6"/>
<ellipse cx="783.4" cy="631.2" rx="9.4" ry="8.6"/>
</g>
<!--LOGO-->
<text id="logo" transform="translate(1287.3,1026.6) scale(1.22,1)" font-family='"Liberation Sans", sans-serif' font-weight="bold" font-size="67.5" fill="#f0140f" stroke="#f0140f" stroke-width="4.4" stroke-linejoin="miter">3<tspan dx="-5.8" textLength="51.6" lengthAdjust="spacingAndGlyphs">M</tspan></text>

<clipPath id="t1clip"><path clip-rule="evenodd" d="M150,150 H1400 V260 H150Z M1248,219.4 H1265.3 V228 H1248Z M1275.4,219.4 H1295 V228 H1275.4Z"/></clipPath><g clip-path="url(#t1clip)"><text transform="translate(203.94,225.80) scale(1.1582,1)" font-family='"Liberation Sans", sans-serif' font-weight="bold" font-style="normal" font-size="57.27" fill="#1e76b9"  stroke="#d6d6d6" stroke-width="1.1" stroke-linejoin="round" paint-order="fill stroke">Self-Impedance Magnitude at J501</text></g>
<text transform="translate(677.10,320.70) scale(1.1336,1)" font-family='"Liberation Sans", sans-serif' font-weight="bold" font-style="normal" font-size="25.76" fill="#1b1d27" >Impedance magnitude [ohm]</text>
<text transform="translate(431.11,351.70) scale(1.1091,1)" font-family='"Liberation Sans", sans-serif' font-weight="normal" font-style="normal" font-size="22.75" fill="#1b1d27"  stroke="#1b1d27" stroke-width="0.3">1.00E+01</text>
<text transform="translate(431.05,461.60) scale(1.1483,1)" font-family='"Liberation Sans", sans-serif' font-weight="normal" font-style="normal" font-size="22.61" fill="#1b1d27"  stroke="#1b1d27" stroke-width="0.3">1.00E+00</text>
<text transform="translate(440.90,573.90) scale(1.1106,1)" font-family='"Liberation Sans", sans-serif' font-weight="normal" font-style="normal" font-size="22.75" fill="#1b1d27"  stroke="#1b1d27" stroke-width="0.3">1.00E-01</text>
<text transform="translate(440.87,683.80) scale(1.1402,1)" font-family='"Liberation Sans", sans-serif' font-weight="normal" font-style="normal" font-size="22.61" fill="#1b1d27"  stroke="#1b1d27" stroke-width="0.3">1.00E-02</text>
<text transform="translate(441.06,793.40) scale(1.1299,1)" font-family='"Liberation Sans", sans-serif' font-weight="normal" font-style="normal" font-size="22.90" fill="#1b1d27"  stroke="#1b1d27" stroke-width="0.3">1.00E-03</text>
<text transform="translate(509.67,826.50) scale(1.1216,1)" font-family='"Liberation Sans", sans-serif' font-weight="normal" font-style="normal" font-size="22.90" fill="#1b1d27"  stroke="#1b1d27" stroke-width="0.3">1.00E+06</text>
<text transform="translate(724.07,826.50) scale(1.1229,1)" font-family='"Liberation Sans", sans-serif' font-weight="normal" font-style="normal" font-size="22.90" fill="#1b1d27"  stroke="#1b1d27" stroke-width="0.3">1.00E+07</text>
<text transform="translate(943.06,826.50) scale(1.1320,1)" font-family='"Liberation Sans", sans-serif' font-weight="normal" font-style="normal" font-size="22.90" fill="#1b1d27"  stroke="#1b1d27" stroke-width="0.3">1.00E+08</text>
<text transform="translate(1159.05,826.50) scale(1.1365,1)" font-family='"Liberation Sans", sans-serif' font-weight="normal" font-style="normal" font-size="22.90" fill="#1b1d27"  stroke="#1b1d27" stroke-width="0.3">1.00E+09</text>
<text transform="translate(805.48,747.20) scale(1.2161,1)" font-family='"Liberation Sans", sans-serif' font-weight="bold" font-style="normal" font-size="19.28" fill="#1b1d27" >Frequency [Hz]</text>
<text transform="translate(222.36,437.30) scale(1.1600,1)" font-family='"Liberation Sans", sans-serif' font-weight="normal" font-style="normal" font-size="38.55" fill="#1b1d27" >2 mil</text>
<text transform="translate(223.28,505.40) scale(1.2170,1)" font-family='"Liberation Sans", sans-serif' font-weight="normal" font-style="normal" font-size="36.38" fill="#1b1d27" >1 mil</text>
<text transform="translate(224.66,641.80) scale(1.1507,1)" font-family='"Liberation Sans", sans-serif' font-weight="normal" font-style="normal" font-size="38.26" fill="#1b1d27" >0.3 mil</text>
<text transform="translate(239.74,752.50) scale(1.1542,1)" font-family='"Liberation Sans", sans-serif' font-weight="normal" font-style="normal" font-size="38.55" fill="#1b1d27" >Bare</text>
<text transform="translate(229.46,819.60) scale(1.2339,1)" font-family='"Liberation Sans", sans-serif' font-weight="normal" font-style="normal" font-size="35.72" fill="#1b1d27" >board</text>
<text transform="translate(218.08,928.30) scale(1.1611,1)" font-family='"Liberation Sans", sans-serif' font-weight="normal" font-style="normal" font-size="22.17" fill="#1b1d27"  stroke="#1b1d27" stroke-width="0.3">Impedance and EMC Characterization</text>
<text transform="translate(702.25,928.30) scale(1.1954,1)" font-family='"Liberation Sans", sans-serif' font-weight="normal" font-style="normal" font-size="22.90" fill="#1b1d27"  stroke="#1b1d27" stroke-width="0.3">11</text>
<text transform="translate(829.70,911.50) scale(1.1136,1)" font-family='"Liberation Sans", sans-serif' font-weight="normal" font-style="normal" font-size="20.00" fill="#1b1d27"  stroke="#1b1d27" stroke-width="0.3">APEX ‘01</text>
<text transform="translate(815.67,945.60) scale(1.0537,1)" font-family='"Liberation Sans", sans-serif' font-weight="normal" font-style="normal" font-size="20.72" fill="#1b1d27"  stroke="#1b1d27" stroke-width="0.3">January 2001</text>
<text transform="translate(1150.38,878.80) scale(1.3098,1)" font-family='"DejaVu Sans", "Liberation Sans", sans-serif' font-weight="normal" font-style="normal" font-size="17.81" fill="#1b1d27"  stroke="#1b1d27" stroke-width="1.15" stroke-linejoin="round">Istvan Novak</text>
<text transform="translate(1163.74,902.90) scale(1.0050,1)" font-family='"DejaVu Sans", "Liberation Sans", sans-serif' font-weight="normal" font-style="italic" font-size="18.82" fill="#1b1d27"  stroke="#1b1d27" stroke-width="0.5">istvan.novak</text>
<text transform="translate(1176.58,924.80) scale(0.9291,1)" font-family='"DejaVu Sans", "Liberation Sans", sans-serif' font-weight="normal" font-style="italic" font-size="20.00" fill="#1b1d27"  stroke="#1b1d27" stroke-width="0.5">@sun.com</text>
</svg>
</body>
</html>
